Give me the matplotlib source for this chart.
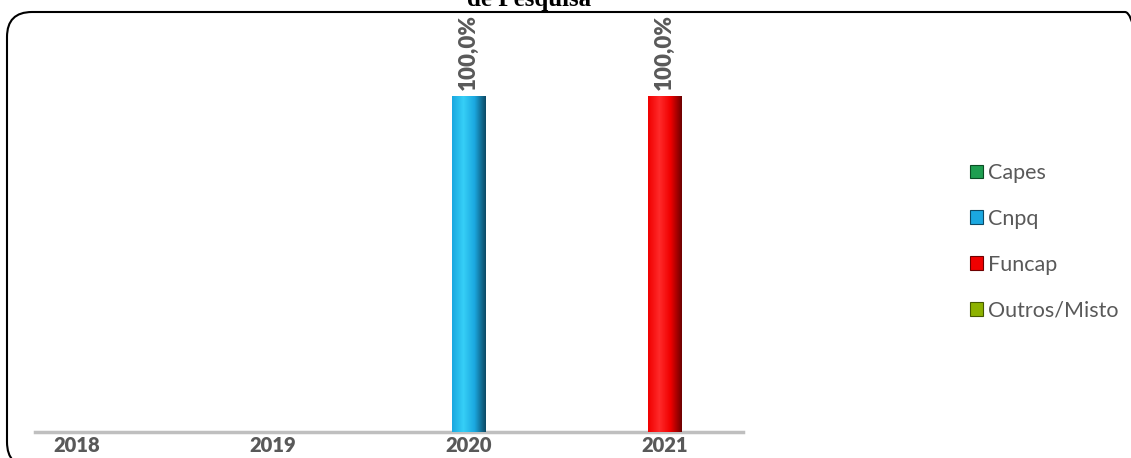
import numpy as np
import matplotlib
matplotlib.use('Agg')
import matplotlib.pyplot as plt
from matplotlib.patches import Patch, FancyBboxPatch
from matplotlib.colors import LinearSegmentedColormap

years = ['2018', '2019', '2020', '2021']
series_names = ['Capes', 'Cnpq', 'Funcap', 'Outros/Misto']
capes = [0, 0, 0, 0]
cnpq = [0, 0, 100, 0]
funcap = [0, 0, 0, 100]
outros = [0, 0, 0, 0]

# base, light, dark shade per series
colors = {
    'Capes': ('#1E9E50', '#3CC46E', '#0B4D24'),
    'Cnpq': ('#1BA8E0', '#36CFF7', '#0C4A66'),
    'Funcap': ('#F00000', '#FF2A2A', '#6E0000'),
    'Outros/Misto': ('#8DB200', '#B0D620', '#465A00'),
}
gray_txt = '#595959'

fig = plt.figure(figsize=(11.31, 4.58), dpi=100)
ax = fig.add_axes([0.0309, 0.0568, 0.626, 0.856])

x = np.arange(len(years))
width = 0.169
for name, vals in zip(series_names, [capes, cnpq, funcap, outros]):
    base, light, dark = colors[name]
    bars = ax.bar(x, vals, width, color=base, edgecolor='none', zorder=2)
    cmap = LinearSegmentedColormap.from_list(name, [base, light, base, dark])
    for b, v in zip(bars, vals):
        if v == 0:
            continue
        x0, y0 = b.get_x(), b.get_y()
        grad = np.linspace(0, 1, 64).reshape(1, -1)
        im = ax.imshow(grad, cmap=cmap, aspect='auto', zorder=3,
                       extent=(x0, x0 + b.get_width(), y0, y0 + b.get_height()))
        im.set_clip_path(b)
        ax.text(b.get_x() + b.get_width() / 2, v + 1.8, f'{v:.1f}%'.replace('.', ','),
                rotation=90, ha='center', va='bottom', fontsize=16,
                fontweight='heavy', color=gray_txt, fontfamily='Lato')

ax.set_xlim(-0.216, 3.402)
ax.set_ylim(0, 116.7)
ax.set_xticks(x)
ax.set_xticklabels(years, fontsize=14.5, fontweight='heavy', color=gray_txt, fontfamily='Lato')
ax.tick_params(axis='x', length=0, pad=3)
ax.set_yticks([])
for s in ['top', 'right', 'left']:
    ax.spines[s].set_visible(False)
ax.spines['bottom'].set_color('#BFBFBF')
ax.spines['bottom'].set_linewidth(2.5)
ax.set_facecolor('none')

handles = [Patch(facecolor=colors[n][0], edgecolor=colors[n][2], linewidth=0.8) for n in series_names]
fig.legend(handles, series_names, loc='upper left', bbox_to_anchor=(970 / 1131, 1 - 163 / 458),
           frameon=False, labelcolor=gray_txt, prop={'family': 'Lato', 'size': 15.5},
           handlelength=0.6, handleheight=0.6, handletextpad=0.25,
           labelspacing=1.2, borderpad=0, borderaxespad=0)

fig.text(529 / 1131, 1 - 6 / 458, 'de Pesquisa', ha='center', va='baseline',
         fontsize=18, fontweight='bold', fontfamily='Liberation Serif')

frame = FancyBboxPatch((7, -9), 1143, 455, boxstyle='round,pad=0,rounding_size=25',
                       transform=None, facecolor='none', edgecolor='black',
                       linewidth=1.5, clip_on=False)
fig.add_artist(frame)

fig.savefig('out.png', dpi=100)
